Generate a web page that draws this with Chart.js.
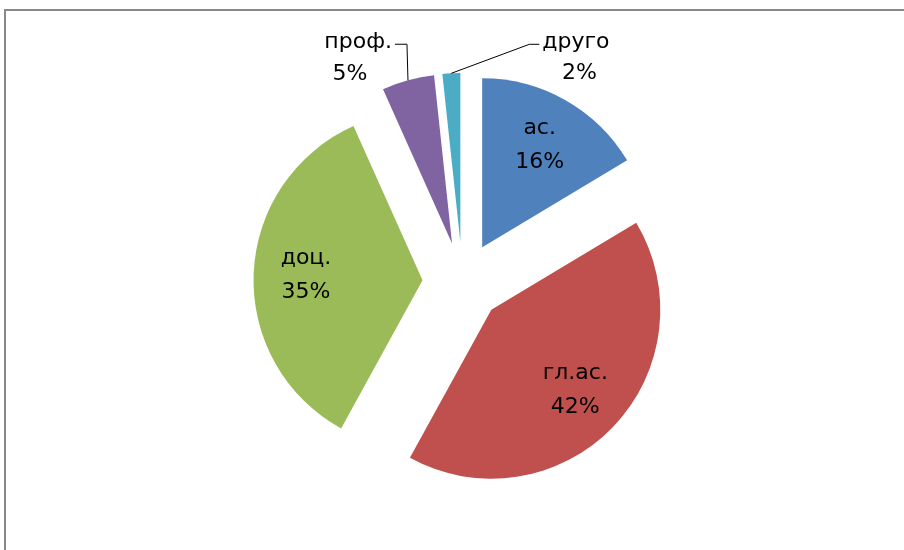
<!DOCTYPE html>
<html>
<head>
<meta charset="utf-8">
<script src="https://cdn.jsdelivr.net/npm/chart.js@4.4.0/dist/chart.umd.min.js"></script>
<style>
  html, body { margin: 0; padding: 0; background: #fff; overflow: hidden; }
  #wrap { position: relative; width: 904px; height: 550px; }
  #frame { position: absolute; left: 4px; top: 9px; width: 1000px; height: 1000px; border: 2px solid #898989; }
  canvas { position: absolute; left: 0; top: 0; }
</style>
</head>
<body>
<div id="wrap">
  <div id="frame"></div>
  <canvas id="chart" width="904" height="550"></canvas>
</div>
<script>
// data (shares in %)
const categories = ['ас.', 'гл.ас.', 'доц.', 'проф.', 'друго'];
const shares = [16.4, 41.6, 35.3, 5.0, 1.7];
const colors = ['#4F81BD', '#C0504D', '#9BBB59', '#8064A2', '#4BACC6'];

const GAP = 40; // explosion distance, px
const FONT = '22px "DejaVu Sans"';

// small slices get their label outside, with a leader line (offsets from the slice's outer point)
const outside = {
  3: { elbow: [-1, -36], end: [-13, -36], name: [-16, -38, 'right'], value: [-58, -6] },
  4: { elbow: [78, -29], end: [88, -29], name: [91, -31, 'left'], value: [128, 0] }
};

// draw each slice pushed out along its bisector
const explode = {
  id: 'explode',
  beforeDatasetDraw(chart, args) {
    const ctx = chart.ctx;
    args.meta.data.forEach(arc => {
      const mid = (arc.startAngle + arc.endAngle) / 2;
      ctx.save();
      ctx.translate(Math.cos(mid) * GAP, Math.sin(mid) * GAP);
      arc.draw(ctx);
      ctx.restore();
    });
    return false;
  }
};

const pieLabels = {
  id: 'pieLabels',
  afterDatasetsDraw(chart) {
    const ctx = chart.ctx;
    const meta = chart.getDatasetMeta(0);
    const total = shares.reduce((a, b) => a + b, 0);
    ctx.save();
    ctx.font = FONT;
    ctx.fillStyle = '#000';
    ctx.strokeStyle = '#000';
    ctx.lineWidth = 1;
    ctx.textBaseline = 'middle';
    meta.data.forEach((arc, i) => {
      const mid = (arc.startAngle + arc.endAngle) / 2;
      const cos = Math.cos(mid), sin = Math.sin(mid);
      const cx = arc.x + cos * GAP, cy = arc.y + sin * GAP;
      const pct = Math.round(shares[i] / total * 100) + '%';
      const o = outside[i];
      if (!o) {
        const r = arc.outerRadius * 0.69;
        const x = cx + cos * r, y = cy + sin * r;
        ctx.textAlign = 'center';
        ctx.fillText(categories[i], x, y - 17);
        ctx.fillText(pct, x, y + 17);
        return;
      }
      const ax = cx + cos * arc.outerRadius, ay = cy + sin * arc.outerRadius;
      ctx.beginPath();
      ctx.moveTo(ax, ay);
      ctx.lineTo(ax + o.elbow[0], ay + o.elbow[1]);
      ctx.lineTo(ax + o.end[0], ay + o.end[1]);
      ctx.stroke();
      ctx.textAlign = o.name[2];
      ctx.fillText(categories[i], ax + o.name[0], ay + o.name[1]);
      ctx.textAlign = 'center';
      ctx.fillText(pct, ax + o.value[0], ay + o.value[1]);
    });
    ctx.restore();
  }
};

new Chart(document.getElementById('chart'), {
  type: 'pie',
  data: {
    labels: categories,
    datasets: [{
      data: shares,
      backgroundColor: colors,
      borderWidth: 0,
      radius: 169
    }]
  },
  options: {
    responsive: false,
    animation: false,
    layout: { padding: { left: 21, right: 0, top: 14, bottom: 0 } },
    plugins: {
      legend: { display: false },
      tooltip: { enabled: false }
    }
  },
  plugins: [explode, pieLabels]
});
</script>
</body>
</html>
